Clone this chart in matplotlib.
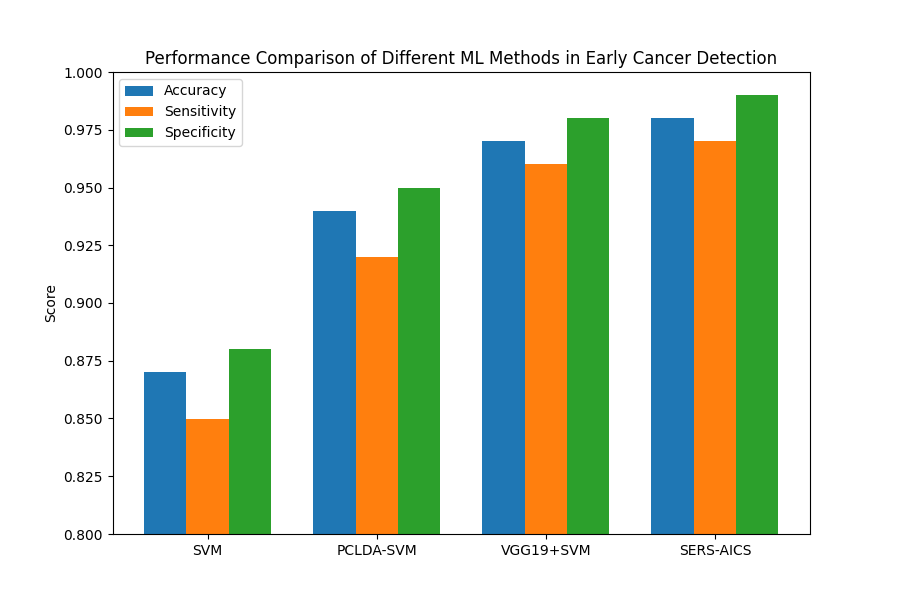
import numpy as np
import matplotlib
matplotlib.use('Agg')
import matplotlib.pyplot as plt

## methods and scores
methods = ['SVM', 'PCLDA-SVM', 'VGG19+SVM', 'SERS-AICS']
accuracy = [0.87, 0.94, 0.97, 0.98]
sensitivity = [0.85, 0.92, 0.96, 0.97]
specificity = [0.88, 0.95, 0.98, 0.99]

x = np.arange(len(methods))
width = 0.25

fig, ax = plt.subplots(figsize=(9, 6), dpi=100)
ax.bar(x - width, accuracy, width, label='Accuracy')
ax.bar(x, sensitivity, width, label='Sensitivity')
ax.bar(x + width, specificity, width, label='Specificity')

ax.set_ylabel('Score')
ax.set_title('Performance Comparison of Different ML Methods in Early Cancer Detection')
ax.set_xticks(x)
ax.set_xticklabels(methods)
ax.set_ylim(0.8, 1.0)
ax.legend(loc='upper left')

plt.savefig('out.png')
